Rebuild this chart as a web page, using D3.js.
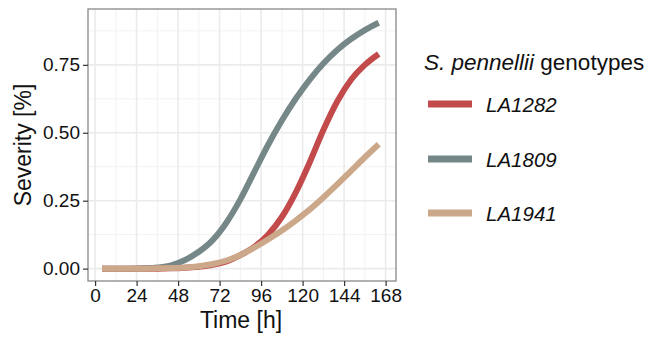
<!DOCTYPE html>
<html><head><meta charset="utf-8">
<script src="https://cdn.jsdelivr.net/npm/d3@7"></script>
<style>body{margin:0;background:#fff}svg{display:block}text{font-family:"Liberation Sans",Arial,sans-serif;fill:#111}</style>
</head><body><svg id="c" width="662" height="338"></svg>
<script>
const times = [4,12,20,28,36,44,52,60,68,76,84,92,100,108,116,124,132,140,148,156,164];
const LA1282 = [0,0,0,0,0,0.001,0.003,0.007,0.014,0.027,0.05,0.08,0.125,0.19,0.28,0.39,0.51,0.615,0.695,0.75,0.79];
const LA1809 = [0,0,0,0.001,0.004,0.012,0.032,0.062,0.105,0.17,0.255,0.355,0.455,0.545,0.625,0.695,0.755,0.805,0.845,0.878,0.905];
const LA1941 = [0,0,0,0,0.001,0.002,0.004,0.009,0.017,0.03,0.05,0.077,0.107,0.14,0.177,0.217,0.262,0.31,0.36,0.41,0.458];
const seriesNames = ["LA1282","LA1809","LA1941"];
const seriesColors = ["#C24A4A","#758787","#CCA88A"];
const xTicks = [0,24,48,72,96,120,144,168];
const yTicks = [0,0.25,0.5,0.75];
const xMinor = [12,36,60,84,108,132,156];
const yMinor = [0.125,0.375,0.625,0.875];

const svg = d3.select("#c");
const L=88, R=396, T=9, B=281;
const x = d3.scaleLinear().domain([-4.1,174.0]).range([L,R]);
const y = d3.scaleLinear().domain([-0.0455,0.9555]).range([B,T]);

const g = svg.append("g");
g.append("rect").attr("x",L).attr("y",T).attr("width",R-L).attr("height",B-T).attr("fill","#fff");
g.selectAll(".xm").data(xMinor).join("line").attr("x1",d=>x(d)).attr("x2",d=>x(d)).attr("y1",T).attr("y2",B).attr("stroke","#F2F2F2").attr("stroke-width",1);
g.selectAll(".ym").data(yMinor).join("line").attr("y1",d=>y(d)).attr("y2",d=>y(d)).attr("x1",L).attr("x2",R).attr("stroke","#F2F2F2").attr("stroke-width",1);
g.selectAll(".xM").data(xTicks).join("line").attr("x1",d=>x(d)).attr("x2",d=>x(d)).attr("y1",T).attr("y2",B).attr("stroke","#EBEBEB").attr("stroke-width",1.6);
g.selectAll(".yM").data(yTicks).join("line").attr("y1",d=>y(d)).attr("y2",d=>y(d)).attr("x1",L).attr("x2",R).attr("stroke","#EBEBEB").attr("stroke-width",1.6);

const line = d3.line().x((d,i)=>x(times[i])).y(d=>y(d)).curve(d3.curveMonotoneX);
const allSeries=[LA1282,LA1809,LA1941];
[1,0,2].forEach(k=>{
  g.append("path").attr("d",line(allSeries[k])).attr("fill","none").attr("stroke",seriesColors[k]).attr("stroke-width",6).attr("stroke-linecap","butt").attr("stroke-linejoin","round");
});

g.append("rect").attr("x",L).attr("y",T).attr("width",R-L).attr("height",B-T).attr("fill","none").attr("stroke","#888").attr("stroke-width",1.3);

const xa = d3.axisBottom(x).tickValues(xTicks).tickSize(5).tickPadding(3).tickFormat(d3.format("d"));
const xg = svg.append("g").attr("transform",`translate(0,${B})`).call(xa);
const ya = d3.axisLeft(y).tickValues(yTicks).tickSize(5).tickPadding(3).tickFormat(d3.format(".2f"));
const yg = svg.append("g").attr("transform",`translate(${L},0)`).call(ya);
[xg,yg].forEach(a=>{a.select(".domain").remove();a.selectAll(".tick line").attr("stroke","#333").attr("stroke-width",1.2);
  a.selectAll(".tick text").attr("font-size",19).attr("fill","#111").attr("font-family","Liberation Sans, Arial, sans-serif");});

svg.append("text").attr("x",241).attr("y",328).attr("text-anchor","middle").attr("font-size",23).text("Time [h]");
svg.append("text").attr("transform","translate(31,145) rotate(-90)").attr("text-anchor","middle").attr("font-size",23).text("Severity [%]");

const lt = svg.append("text").attr("x",424).attr("y",70).attr("font-size",22.5);
lt.append("tspan").attr("font-style","italic").text("S. pennellii");
lt.append("tspan").text(" genotypes");
const ky=[104,159,213];
seriesNames.forEach((n,i)=>{
  svg.append("line").attr("x1",428).attr("x2",472).attr("y1",ky[i]).attr("y2",ky[i]).attr("stroke",seriesColors[i]).attr("stroke-width",7);
  svg.append("text").attr("x",486).attr("y",ky[i]+8).attr("font-size",20.5).attr("font-style","italic").text(n);
});
</script></body></html>
